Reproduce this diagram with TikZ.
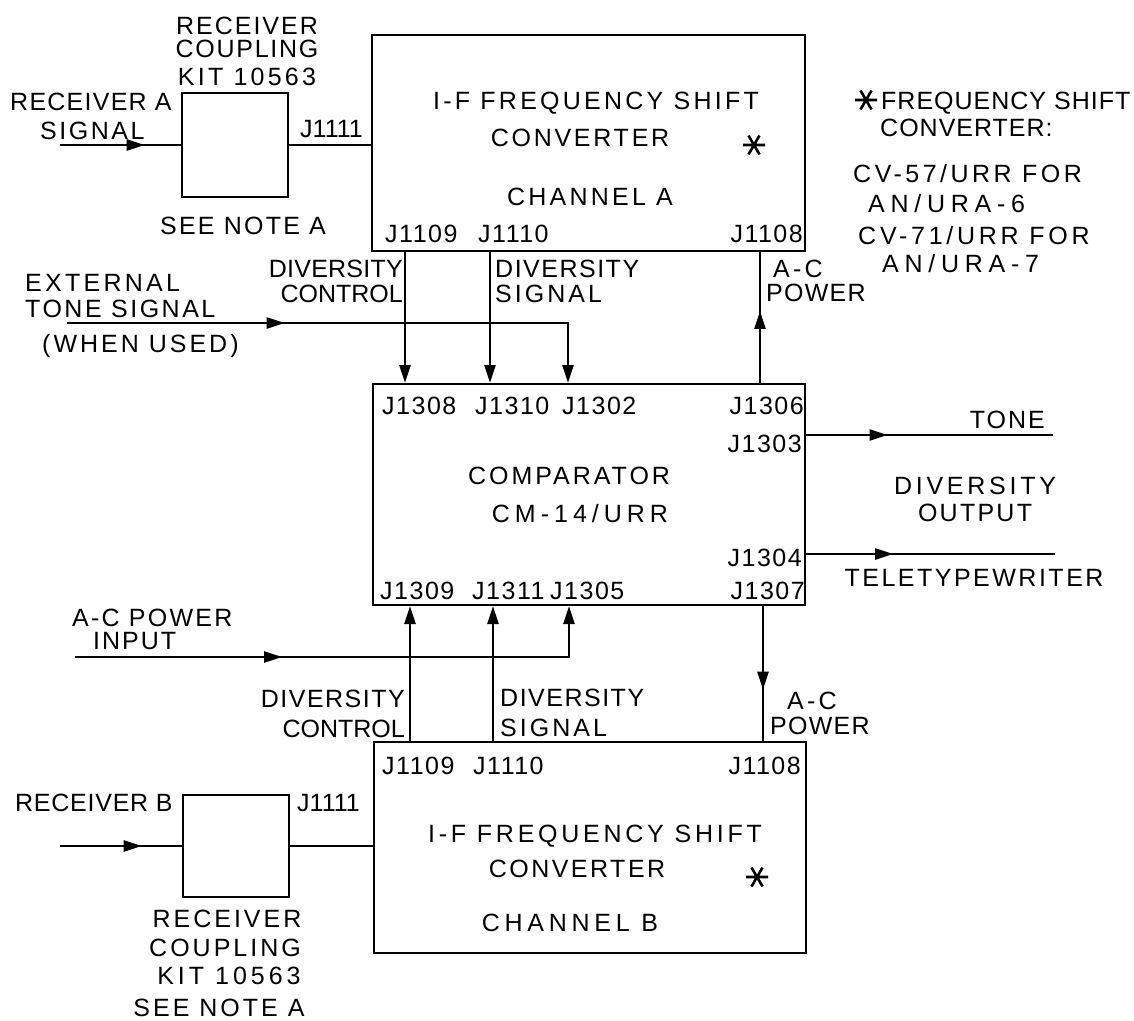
\documentclass[tikz,border=0pt]{standalone}
\usepackage{fontspec}
\setmainfont{Liberation Sans}
\usetikzlibrary{arrows.meta,decorations.markings}
\begin{document}
\begin{tikzpicture}[x=1pt,y=-1pt,
  blk/.style={draw,line width=2pt,rectangle,inner sep=0pt},
  wire/.style={line width=2.4pt},
  tip/.style={-{Triangle[length=18pt,width=11pt]}},
  midarrow/.style={postaction={decorate},decoration={markings,mark=at position #1 with {\arrow{Triangle[length=18pt,width=11pt]}}}},
  lbl/.style={inner sep=0pt,text height=18pt,text depth=0pt,font=\fontsize{25}{30}\selectfont\addfontfeature{LetterSpace=#1}},
  lbl/.default=5,
  starsym/.style={inner sep=0pt,minimum size=26pt,
    path picture={\draw[line width=2.6pt]
      (path picture bounding box.center) +(-11,0) -- +(11,0)
      (path picture bounding box.center) +(-5.5,-9.5) -- +(5.5,9.5)
      (path picture bounding box.center) +(-5.5,9.5) -- +(5.5,-9.5);}}]
\useasboundingbox (0,0) rectangle (1134,1020);
\fill[white] (0,0) rectangle (1134,1020);

% blocks
\node[blk,minimum width=433pt,minimum height=216pt] (convA) at (588.5,143) {};
\node[blk,minimum width=432pt,minimum height=221pt] (comp) at (589,494.5) {};
\node[blk,minimum width=432pt,minimum height=211pt] (convB) at (590,847.5) {};
\node[blk,minimum width=106pt,minimum height=104pt] (kitA) at (235,145) {};
\node[blk,minimum width=106pt,minimum height=102pt] (kitB) at (236,846) {};

% helper coordinates
\coordinate (xDCa) at (405,0);
\coordinate (xDSa) at (490,0);
\coordinate (xACa) at (760,0);
\coordinate (xTone) at (568,0);
\coordinate (xDCb) at (410,0);
\coordinate (xDSb) at (493,0);
\coordinate (xACb) at (763,0);
\coordinate (xPwr) at (569,0);
\coordinate (rxA) at (60,145);
\coordinate (extT) at (67,323);
\coordinate (acIn) at (75,657);
\coordinate (rxB) at (60,846);
\coordinate (yTone) at (0,435);
\coordinate (yTTY) at (0,554);
\coordinate (toneEnd) at (1053,435);
\coordinate (ttyEnd) at (1055,554);

% connectors
\draw[wire,midarrow=0.7] (rxA) -- (kitA.west);
\draw[wire] (kitA.east) -- (kitA.east -| convA.west);
\draw[wire,tip,midarrow=0.388] (extT) -- (extT -| xTone) -- (comp.north -| xTone);
\draw[wire,tip] (convA.south -| xDCa) -- (comp.north -| xDCa);
\draw[wire,tip] (convA.south -| xDSa) -- (comp.north -| xDSa);
\draw[wire,midarrow=0.55] (comp.north -| xACa) -- (convA.south -| xACa);
\draw[wire,midarrow=0.33] (comp.east |- yTone) -- (toneEnd);
\draw[wire,midarrow=0.35] (comp.east |- yTTY) -- (ttyEnd);
\draw[wire,tip] (convB.north -| xDCb) -- (comp.south -| xDCb);
\draw[wire,tip] (convB.north -| xDSb) -- (comp.south -| xDSb);
\draw[wire,tip,midarrow=0.38] (acIn) -- (acIn -| xPwr) -- (comp.south -| xPwr);
\draw[wire,midarrow=0.62] (comp.south -| xACb) -- (convB.north -| xACb);
\draw[wire,midarrow=0.67] (rxB) -- (kitB.west);
\draw[wire] (kitB.east) -- (kitB.east -| convB.west);

% kit A labels
\node[lbl=8] (kA1) at (247,25) {RECEIVER};
\node[lbl=7] (kA2) at (247,48) {COUPLING};
\node[lbl=13] (kA3) at (247,76) {KIT 10563};
\node[lbl=5,anchor=west] (rA1) at (10,101) {RECEIVER A};
\node[lbl=10,anchor=west] (rA2) at (40,130) {SIGNAL};
\node[lbl=0,anchor=west] (jA) at (300,128) {J1111};
\node[lbl=9] (nA) at (243,225) {SEE NOTE A};

% converter A labels
\node[lbl=13] (cA1) at (596,100) {I-F FREQUENCY SHIFT};
\node[lbl=11] (cA2) at (580,137) {CONVERTER};
\node[starsym] (sA) at (754,145) {};
\node[lbl=13] (cA3) at (590,196) {CHANNEL A};
\node[lbl=6,anchor=west] (jA09) at (385,233) {J1109};
\node[lbl=6,anchor=west] (jA10) at (478,233) {J1110};
\node[lbl=6,anchor=east] (jA08) at (803,233) {J1108};

% note
\node[starsym] (sN) at (866,100) {};
\node[lbl=4,anchor=west] (n1) at (881,100) {FREQUENCY SHIFT};
\node[lbl=4,anchor=west] (n2) at (880,127) {CONVERTER:};
\node[lbl=14,anchor=west] (n3) at (853,173) {CV-57/URR FOR};
\node[lbl=23,anchor=west] (n4) at (868,203) {AN/URA-6};
\node[lbl=15,anchor=west] (n5) at (858,235) {CV-71/URR FOR};
\node[lbl=23,anchor=west] (n6) at (882,263) {AN/URA-7};

% middle upper labels
\node[lbl=1,anchor=east] (dcA1) at (403,268) {DIVERSITY};
\node[lbl=0,anchor=east] (dcA2) at (403,293) {CONTROL};
\node[lbl=6,anchor=west] (dsA1) at (495,268) {DIVERSITY};
\node[lbl=12,anchor=west] (dsA2) at (495,293) {SIGNAL};
\node[lbl=13,anchor=west] (acA1) at (773,268) {A-C};
\node[lbl=5,anchor=west] (acA2) at (766,292) {POWER};
\node[lbl=13,anchor=west] (ex1) at (25,282) {EXTERNAL};
\node[lbl=10,anchor=west] (ex2) at (25,308) {TONE SIGNAL};
\node[lbl=12,anchor=west] (ex3) at (42,343) {(WHEN USED)};

% comparator labels
\node[lbl=6,anchor=west] (j1308) at (382,405) {J1308};
\node[lbl=6,anchor=west] (j1310) at (475,405) {J1310};
\node[lbl=6,anchor=west] (j1302) at (562,405) {J1302};
\node[lbl=6,anchor=east] (j1306) at (804,405) {J1306};
\node[lbl=6,anchor=east] (j1303) at (802,443) {J1303};
\node[lbl=12] (cm1) at (569,475) {COMPARATOR};
\node[lbl=20] (cm2) at (580,513) {CM-14/URR};
\node[lbl=6,anchor=east] (j1304) at (802,557) {J1304};
\node[lbl=6,anchor=west] (j1309) at (380,590) {J1309};
\node[lbl=6,anchor=west] (j1311) at (472,590) {J1311};
\node[lbl=6,anchor=west] (j1305) at (550,590) {J1305};
\node[lbl=6,anchor=east] (j1307) at (805,590) {J1307};

% outputs
\node[lbl=8,anchor=east] (tone) at (1045,419) {TONE};
\node[lbl=15] (do1) at (975,485) {DIVERSITY};
\node[lbl=9] (do2) at (975,512) {OUTPUT};
\node[lbl=10] (tty) at (974,577) {TELETYPEWRITER};

% lower labels
\node[lbl=9,anchor=west] (pw1) at (72,617) {A-C POWER};
\node[lbl=8,anchor=west] (pw2) at (93,640) {INPUT};
\node[lbl=6,anchor=east] (dcB1) at (405,698) {DIVERSITY};
\node[lbl=0,anchor=east] (dcB2) at (405,728) {CONTROL};
\node[lbl=6,anchor=west] (dsB1) at (500,697) {DIVERSITY};
\node[lbl=12,anchor=west] (dsB2) at (500,727) {SIGNAL};
\node[lbl=13,anchor=west] (acB1) at (787,700) {A-C};
\node[lbl=5,anchor=west] (acB2) at (770,725) {POWER};

% converter B labels
\node[lbl=6,anchor=west] (jB09) at (382,765) {J1109};
\node[lbl=6,anchor=west] (jB10) at (473,765) {J1110};
\node[lbl=6,anchor=east] (jB08) at (801,765) {J1108};
\node[lbl=15] (cB1) at (595,833) {I-F FREQUENCY SHIFT};
\node[lbl=10] (cB2) at (577,868) {CONVERTER};
\node[starsym] (sB) at (757,877) {};
\node[lbl=19] (cB3) at (570,922) {CHANNEL B};

% kit B labels
\node[lbl=3,anchor=west] (rB1) at (15,802) {RECEIVER B};
\node[lbl=0,anchor=west] (jB) at (297,802) {J1111};
\node[lbl=12] (kB1) at (227,918) {RECEIVER};
\node[lbl=12] (kB2) at (225,947) {COUPLING};
\node[lbl=16] (kB3) at (229,975) {KIT 10563};
\node[lbl=12] (nB) at (219,1007) {SEE NOTE A};
\end{tikzpicture}
\end{document}
